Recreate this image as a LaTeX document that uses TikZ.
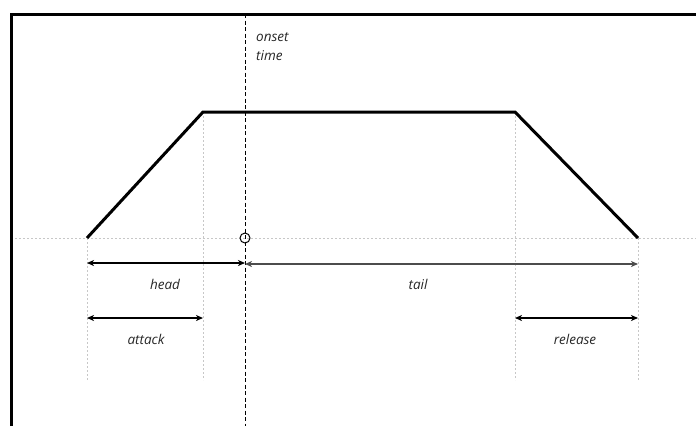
\documentclass[tikz,border=0pt]{standalone}
\usepackage{fontspec}
\setmainfont{Open Sans}
\usetikzlibrary{arrows.meta}
\tikzset{
  env/.style={line width=3pt, line join=miter},
  guide/.style={draw=black!22, line width=0.6pt, dash pattern=on 2pt off 2pt},
  dim/.style={line width=1.3pt, {Stealth[length=7pt,width=6pt,inset=2pt]}-{Stealth[length=7pt,width=6pt,inset=2pt]}},
  lbl/.style={font=\itshape\fontsize{13.5}{19}\selectfont, text=black!85, inner sep=0pt},
}
\begin{document}
\begin{tikzpicture}[x=1pt,y=-1pt]
\useasboundingbox (0,0) rectangle (696,426);
\coordinate (a0) at (87,238);
\coordinate (a1) at (203,112);
\coordinate (r0) at (515,112);
\coordinate (r1) at (638,238);
\coordinate (on) at (245,238);
% guides
\draw[guide] (11,238) -- (696,238);
\draw[guide] (87,238) -- (87,380);
\draw[guide] (203,112) -- (203,380);
\draw[guide] (515,112) -- (515,380);
\draw[guide] (638,238) -- (638,380);
% frame
\draw[line width=3pt] (11,426) -- (11,14) -- (696,14);
% onset line
\draw[line width=1pt, dash pattern=on 4pt off 2.5pt] (245,14) -- (245,426);
\node[draw, circle, line width=1pt, minimum size=10pt, inner sep=0pt] (oc) at (on) {};
% envelope
\draw[env] (a0) -- (a1) -- (r0) -- (r1);
% dims
\coordinate (h0) at (87,263);
\coordinate (h1) at (245,263);
\coordinate (t0) at (245,264);
\coordinate (t1) at (638,264);
\coordinate (k0) at (87,318);
\coordinate (k1) at (203,318);
\coordinate (e0) at (515,318);
\coordinate (e1) at (638,318);
\draw[dim] (h0) -- (h1);
\draw[dim, draw=black!70] (t0) -- (t1);
\draw[dim] (k0) -- (k1);
\draw[dim] (e0) -- (e1);
\node[lbl] (head) at (165,284) {head};
\node[lbl] (tail) at (418,284) {tail};
\node[lbl] (attack) at (146,339) {attack};
\node[lbl] (release) at (575,339) {release};
\node[lbl, anchor=west, align=left] (onset) at (256,47) {onset\\time};
\end{tikzpicture}
\end{document}
